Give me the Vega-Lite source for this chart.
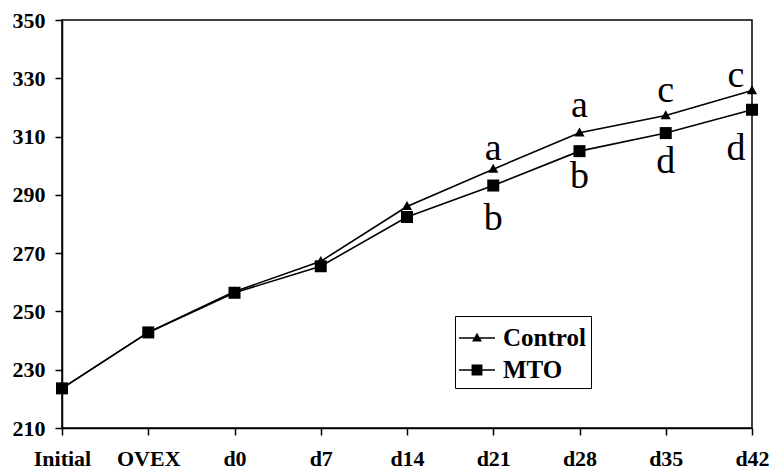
{
  "$schema": "https://vega.github.io/schema/vega-lite/v6.json",
  "width": 690,
  "height": 408,
  "autosize": "none",
  "padding": {"left": 62, "top": 20, "right": 21, "bottom": 43},
  "background": "white",
  "config": {
    "view": {"stroke": "black", "strokeWidth": 1.5},
    "font": "Liberation Serif",
    "axis": {"grid": false, "domainColor": "black", "tickColor": "black", "labelColor": "black", "labelFont": "Liberation Serif", "labelFontWeight": "bold", "labelFontSize": 22, "tickSize": 7, "domainWidth": 1.5, "tickWidth": 1.5, "title": null}
  },
  "resolve": {"scale": {"shape": "independent"}, "legend": {"shape": "independent"}},
  "datasets": {
    "series": [
      {"time": "Initial", "group": "Control", "value": 223.6},
      {"time": "OVEX", "group": "Control", "value": 242.8},
      {"time": "d0", "group": "Control", "value": 256.8},
      {"time": "d7", "group": "Control", "value": 267.2},
      {"time": "d14", "group": "Control", "value": 286.0},
      {"time": "d21", "group": "Control", "value": 298.8},
      {"time": "d28", "group": "Control", "value": 311.3},
      {"time": "d35", "group": "Control", "value": 317.2},
      {"time": "d42", "group": "Control", "value": 325.8},
      {"time": "Initial", "group": "MTO", "value": 223.6},
      {"time": "OVEX", "group": "MTO", "value": 242.8},
      {"time": "d0", "group": "MTO", "value": 256.4},
      {"time": "d7", "group": "MTO", "value": 265.5},
      {"time": "d14", "group": "MTO", "value": 282.4},
      {"time": "d21", "group": "MTO", "value": 293.2},
      {"time": "d28", "group": "MTO", "value": 305.0},
      {"time": "d35", "group": "MTO", "value": 311.2},
      {"time": "d42", "group": "MTO", "value": 319.2}
    ],
    "letters": [
      {"time": "d21", "letter": "a", "pos": 302},
      {"time": "d21", "letter": "b", "pos": 278},
      {"time": "d28", "letter": "a", "pos": 316.7},
      {"time": "d28", "letter": "b", "pos": 292.4},
      {"time": "d35", "letter": "c", "pos": 322},
      {"time": "d35", "letter": "d", "pos": 297.5},
      {"time": "d42", "letter": "c", "pos": 327},
      {"time": "d42", "letter": "d", "pos": 302}
    ]
  },
  "layer": [
    {
      "data": {"name": "series"},
      "mark": {"type": "line", "color": "black", "strokeWidth": 1.6},
      "encoding": {
        "x": {"field": "time", "type": "ordinal", "sort": ["Initial", "OVEX", "d0", "d7", "d14", "d21", "d28", "d35", "d42"], "scale": {"type": "point", "padding": 0}, "axis": {"labelAngle": 0, "labelPadding": 13}},
        "y": {"field": "value", "type": "quantitative", "scale": {"domain": [210, 350], "nice": false, "zero": false}, "axis": {"values": [210, 230, 250, 270, 290, 310, 330, 350], "labelPadding": 10}},
        "detail": {"field": "group"}
      }
    },
    {
      "data": {"name": "series"},
      "mark": {"type": "point", "filled": true, "opacity": 1, "color": "black", "size": 144},
      "encoding": {
        "x": {"field": "time", "type": "ordinal", "sort": ["Initial", "OVEX", "d0", "d7", "d14", "d21", "d28", "d35", "d42"]},
        "y": {"field": "value", "type": "quantitative"},
        "shape": {"field": "group", "type": "nominal", "scale": {"domain": ["Control", "MTO"], "range": ["M-0.85,0.6L0,-0.9L0.85,0.6Z", "M-1,-1H1V1H-1Z"]}, "legend": null}
      }
    },
    {
      "data": {"name": "series"},
      "transform": [{"filter": "false"}],
      "mark": {"type": "point", "filled": true, "opacity": 1, "color": "black"},
      "encoding": {
        "x": {"field": "time", "type": "ordinal", "sort": ["Initial", "OVEX", "d0", "d7", "d14", "d21", "d28", "d35", "d42"]},
        "y": {"field": "value", "type": "quantitative"},
        "shape": {"field": "group", "type": "nominal", "scale": {"domain": ["Control", "MTO"], "range": ["M-1.125,-0.045H1.125V0.045H-1.125ZM-0.31,0.22L0,-0.33L0.31,0.22Z", "M-1.125,-0.045H1.125V0.045H-1.125ZM-0.34,-0.34H0.34V0.34H-0.34Z"]},
          "legend": {"title": null, "orient": "none", "legendX": 393, "legendY": 296, "strokeColor": "black", "padding": 5, "labelFontSize": 25, "labelFontWeight": "bold", "labelFont": "Liberation Serif", "labelColor": "black", "symbolSize": 1024, "rowPadding": 2, "labelOffset": 9, "symbolFillColor": "black", "symbolOpacity": 1}}
      }
    },
    {
      "data": {"name": "letters"},
      "transform": [{"filter": "datum.time !== 'd42'"}],
      "mark": {"type": "text", "font": "Liberation Serif", "fontSize": 38, "baseline": "alphabetic", "color": "black"},
      "encoding": {
        "x": {"field": "time", "type": "ordinal", "sort": ["Initial", "OVEX", "d0", "d7", "d14", "d21", "d28", "d35", "d42"]},
        "y": {"field": "pos", "type": "quantitative"},
        "text": {"field": "letter"}
      }
    },
    {
      "data": {"name": "letters"},
      "transform": [{"filter": "datum.time === 'd42'"}],
      "mark": {"type": "text", "font": "Liberation Serif", "fontSize": 38, "baseline": "alphabetic", "color": "black", "dx": -16},
      "encoding": {
        "x": {"field": "time", "type": "ordinal", "sort": ["Initial", "OVEX", "d0", "d7", "d14", "d21", "d28", "d35", "d42"]},
        "y": {"field": "pos", "type": "quantitative"},
        "text": {"field": "letter"}
      }
    }
  ]
}
